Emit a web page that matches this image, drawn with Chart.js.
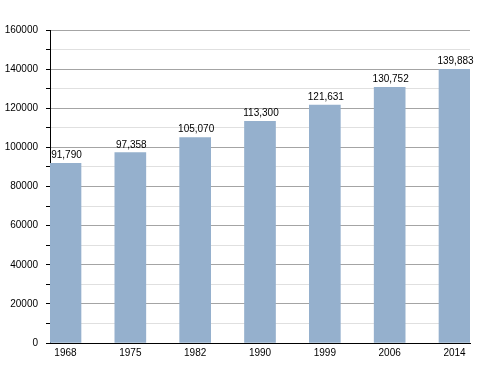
<!DOCTYPE html>
<html>
<head>
<meta charset="utf-8">
<script src="https://cdn.jsdelivr.net/npm/chart.js@4/dist/chart.umd.min.js"></script>
<style>
  html, body { margin: 0; padding: 0; background: #fff; }
  #wrap { width: 500px; height: 373px; }
</style>
</head>
<body>
<div id="wrap"><canvas id="popChart" width="500" height="373"></canvas></div>
<script>
// Données
const years = ['1968', '1975', '1982', '1990', '1999', '2006', '2014'];
const population = [91790, 97358, 105070, 113300, 121631, 130752, 139883];
const yTicks = [0, 20000, 40000, 60000, 80000, 100000, 120000, 140000, 160000];

// Étiquettes au-dessus des barres
const valueLabels = {
    id: 'valueLabels',
    afterDatasetsDraw: (chart) => {
        const { ctx } = chart;
        const meta = chart.getDatasetMeta(0);
        ctx.save();
        ctx.font = '10px "Liberation Sans", Arial, sans-serif';
        ctx.fillStyle = '#000';
        ctx.textAlign = 'center';
        ctx.textBaseline = 'alphabetic';
        meta.data.forEach((bar, i) => {
            ctx.fillText(population[i].toLocaleString('en-US'), bar.x + 1, bar.y - 5);
        });
        ctx.restore();
    }
};

new Chart(document.getElementById('popChart').getContext('2d'), {
    type: 'bar',
    plugins: [valueLabels],
    data: {
        datasets: [{
            data: population.map((v, i) => ({ x: i, y: v })),
            backgroundColor: '#95b0cd',
            borderWidth: 0,
            barThickness: 31
        }]
    },
    options: {
        responsive: false,
        animation: false,
        layout: { padding: { left: 0, right: 30, top: 30, bottom: 0 } },
        plugins: { legend: { display: false }, tooltip: { enabled: false } },
        scales: {
            x: {
                type: 'linear',
                offset: false,
                min: -0.239,
                max: 6.239,
                afterBuildTicks: (scale) => {
                    scale.ticks = years.map((y, i) => ({ value: i }));
                },
                afterFit: (scale) => { scale.height = 30; },
                grid: { display: false, drawTicks: false },
                border: { display: true, color: '#000', width: 1 },
                ticks: {
                    padding: 4,
                    color: '#000',
                    font: { family: '"Liberation Sans", Arial', size: 10 },
                    callback: (v) => years[v] ?? ''
                }
            },
            y: {
                min: 0,
                max: 160000,
                afterFit: (scale) => { scale.width = 50; },
                ticks: {
                    stepSize: 10000,
                    padding: 8,
                    color: '#000',
                    font: { family: '"Liberation Sans", Arial', size: 10 },
                    callback: (v) => yTicks.includes(v) ? String(v) : ''
                },
                grid: {
                    color: (c) => (c.tick && c.tick.value % 20000 === 0) ? '#a4a4a4' : '#e0e0e0',
                    tickColor: '#000',
                    tickLength: 4,
                    lineWidth: 1
                },
                border: { display: true, color: '#000', width: 1 }
            }
        }
    }
});
</script>
</body>
</html>
